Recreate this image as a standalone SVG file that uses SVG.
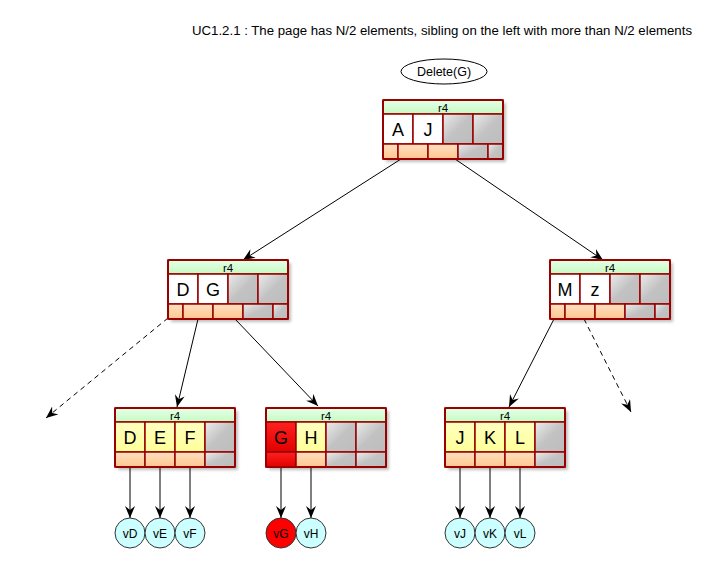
<svg xmlns="http://www.w3.org/2000/svg" width="714" height="564" viewBox="0 0 714 564">
<style>
text{font-family:"Liberation Sans","DejaVu Sans",Arial,sans-serif;fill:#000}
.title{font-size:12.5px}
.op{font-size:12.5px;text-anchor:middle}
.hdr{font-size:11.5px;text-anchor:middle}
.key{font-size:18px;text-anchor:middle}
.val{font-size:12px;text-anchor:middle}
.box{fill:none;stroke:#990000;stroke-width:2}
.shadow{fill:#000;opacity:0.25;filter:url(#blur)}
.c{stroke:#990000;stroke-width:1.5}
.g{fill:url(#gGreen)}
.w{fill:#ffffff}
.gr{fill:url(#gGray)}
.y{fill:url(#gYellow)}
.o{fill:url(#gOrange)}
.r{fill:url(#gRed)}
.link{stroke:#000;stroke-width:1;fill:none;marker-end:url(#arr)}
.dash{stroke-dasharray:5,4}
.leafc{fill:#ccffff;stroke:#333;stroke-width:1}
.leafr{fill:#ff0000;stroke:#333;stroke-width:1}
</style>
<defs>
<filter id="blur" x="-10%" y="-10%" width="130%" height="130%"><feGaussianBlur stdDeviation="1.5"/></filter>
<linearGradient id="gGreen" x1="0" y1="0" x2="0" y2="1"><stop offset="0" stop-color="#e6ffe6"/><stop offset="1" stop-color="#c4fbc4"/></linearGradient>
<linearGradient id="gGray" x1="0" y1="0" x2="1" y2="1"><stop offset="0" stop-color="#ececec"/><stop offset="0.5" stop-color="#c2c2c2"/><stop offset="1" stop-color="#bdbdbd"/></linearGradient>
<linearGradient id="gYellow" x1="0" y1="0" x2="0" y2="1"><stop offset="0" stop-color="#ffffc0"/><stop offset="1" stop-color="#ffff99"/></linearGradient>
<linearGradient id="gOrange" x1="0" y1="0" x2="0" y2="1"><stop offset="0" stop-color="#ffe0c0"/><stop offset="1" stop-color="#ffc690"/></linearGradient>
<linearGradient id="gRed" x1="0" y1="0" x2="0" y2="1"><stop offset="0" stop-color="#ff2020"/><stop offset="1" stop-color="#e00000"/></linearGradient>
<marker id="arr" viewBox="0 0 12 10" refX="12" refY="5" markerWidth="12" markerHeight="10" markerUnits="userSpaceOnUse" orient="auto"><path d="M0,0 L12,5 L0,10 L4,5 Z" fill="#000"/></marker>
</defs>
<rect width="714" height="564" fill="#ffffff"/>
<text class="title" x="692" y="35" text-anchor="end" textLength="500" lengthAdjust="spacingAndGlyphs">UC1.2.1 : The page has N/2 elements, sibling on the left with more than N/2 elements</text>
<g id="op">
<ellipse cx="444" cy="71.5" rx="43" ry="12.5" fill="#fff" stroke="#000" stroke-width="1"/>
<text class="op" x="444" y="76">Delete(G)</text>
</g>
<g id="connectors">
<line class="link" x1="401" y1="159" x2="243" y2="260"/>
<line class="link" x1="455" y1="159" x2="603" y2="260"/>
<line class="link dash" x1="168" y1="318" x2="46" y2="418"/>
<line class="link" x1="198" y1="319" x2="177" y2="407"/>
<line class="link" x1="235" y1="319" x2="318" y2="406"/>
<line class="link" x1="554" y1="319" x2="509" y2="407"/>
<line class="link dash" x1="584" y1="319" x2="631" y2="412"/>
<line class="link" x1="130" y1="467" x2="130" y2="518"/>
<line class="link" x1="160" y1="467" x2="160" y2="518"/>
<line class="link" x1="190" y1="467" x2="190" y2="518"/>
<line class="link" x1="281" y1="467" x2="281" y2="518"/>
<line class="link" x1="311" y1="467" x2="311" y2="518"/>
<line class="link" x1="460" y1="467" x2="460" y2="518"/>
<line class="link" x1="490" y1="467" x2="490" y2="518"/>
<line class="link" x1="520" y1="467" x2="520" y2="518"/>
</g>
<g id="root" transform="translate(383,100)">
<rect class="shadow" x="3" y="3" width="120" height="59"/>
<rect class="c g" x="0" y="0" width="120" height="14"/>
<rect class="c w" x="0" y="14" width="30" height="30"/>
<rect class="c w" x="30" y="14" width="30" height="30"/>
<rect class="c gr" x="60" y="14" width="30" height="30"/>
<rect class="c gr" x="90" y="14" width="30" height="30"/>
<rect class="c o" x="0" y="44" width="15" height="15"/>
<rect class="c o" x="15" y="44" width="30" height="15"/>
<rect class="c o" x="45" y="44" width="30" height="15"/>
<rect class="c gr" x="75" y="44" width="30" height="15"/>
<rect class="c gr" x="105" y="44" width="15" height="15"/>
<rect class="box" x="0" y="0" width="120" height="59" rx="1.5"/>
<text class="hdr" x="60" y="11.5">r4</text>
<text class="key" x="15" y="35.5">A</text>
<text class="key" x="45" y="35.5">J</text>
</g>
<g id="nodeDG" transform="translate(168,260)">
<rect class="shadow" x="3" y="3" width="120" height="59"/>
<rect class="c g" x="0" y="0" width="120" height="14"/>
<rect class="c w" x="0" y="14" width="30" height="30"/>
<rect class="c w" x="30" y="14" width="30" height="30"/>
<rect class="c gr" x="60" y="14" width="30" height="30"/>
<rect class="c gr" x="90" y="14" width="30" height="30"/>
<rect class="c o" x="0" y="44" width="15" height="15"/>
<rect class="c o" x="15" y="44" width="30" height="15"/>
<rect class="c o" x="45" y="44" width="30" height="15"/>
<rect class="c gr" x="75" y="44" width="30" height="15"/>
<rect class="c gr" x="105" y="44" width="15" height="15"/>
<rect class="box" x="0" y="0" width="120" height="59" rx="1.5"/>
<text class="hdr" x="60" y="11.5">r4</text>
<text class="key" x="15" y="35.5">D</text>
<text class="key" x="45" y="35.5">G</text>
</g>
<g id="nodeMz" transform="translate(550,260)">
<rect class="shadow" x="3" y="3" width="120" height="59"/>
<rect class="c g" x="0" y="0" width="120" height="14"/>
<rect class="c w" x="0" y="14" width="30" height="30"/>
<rect class="c w" x="30" y="14" width="30" height="30"/>
<rect class="c gr" x="60" y="14" width="30" height="30"/>
<rect class="c gr" x="90" y="14" width="30" height="30"/>
<rect class="c o" x="0" y="44" width="15" height="15"/>
<rect class="c o" x="15" y="44" width="30" height="15"/>
<rect class="c o" x="45" y="44" width="30" height="15"/>
<rect class="c gr" x="75" y="44" width="30" height="15"/>
<rect class="c gr" x="105" y="44" width="15" height="15"/>
<rect class="box" x="0" y="0" width="120" height="59" rx="1.5"/>
<text class="hdr" x="60" y="11.5">r4</text>
<text class="key" x="15" y="35.5">M</text>
<text class="key" x="45" y="35.5">z</text>
</g>
<g id="leafDEF" transform="translate(115,408)">
<rect class="shadow" x="3" y="3" width="120" height="59"/>
<rect class="c g" x="0" y="0" width="120" height="14"/>
<rect class="c y" x="0" y="14" width="30" height="30"/>
<rect class="c y" x="30" y="14" width="30" height="30"/>
<rect class="c y" x="60" y="14" width="30" height="30"/>
<rect class="c gr" x="90" y="14" width="30" height="30"/>
<rect class="c o" x="0" y="44" width="30" height="15"/>
<rect class="c o" x="30" y="44" width="30" height="15"/>
<rect class="c o" x="60" y="44" width="30" height="15"/>
<rect class="c gr" x="90" y="44" width="30" height="15"/>
<rect class="box" x="0" y="0" width="120" height="59" rx="1.5"/>
<text class="hdr" x="60" y="11.5">r4</text>
<text class="key" x="15" y="35.5">D</text>
<text class="key" x="45" y="35.5">E</text>
<text class="key" x="75" y="35.5">F</text>
</g>
<g id="leafGH" transform="translate(266,408)">
<rect class="shadow" x="3" y="3" width="120" height="59"/>
<rect class="c g" x="0" y="0" width="120" height="14"/>
<rect class="c r" x="0" y="14" width="30" height="30"/>
<rect class="c y" x="30" y="14" width="30" height="30"/>
<rect class="c gr" x="60" y="14" width="30" height="30"/>
<rect class="c gr" x="90" y="14" width="30" height="30"/>
<rect class="c r" x="0" y="44" width="30" height="15"/>
<rect class="c o" x="30" y="44" width="30" height="15"/>
<rect class="c gr" x="60" y="44" width="30" height="15"/>
<rect class="c gr" x="90" y="44" width="30" height="15"/>
<rect class="box" x="0" y="0" width="120" height="59" rx="1.5"/>
<text class="hdr" x="60" y="11.5">r4</text>
<text class="key" x="15" y="35.5">G</text>
<text class="key" x="45" y="35.5">H</text>
</g>
<g id="leafJKL" transform="translate(445,408)">
<rect class="shadow" x="3" y="3" width="120" height="59"/>
<rect class="c g" x="0" y="0" width="120" height="14"/>
<rect class="c y" x="0" y="14" width="30" height="30"/>
<rect class="c y" x="30" y="14" width="30" height="30"/>
<rect class="c y" x="60" y="14" width="30" height="30"/>
<rect class="c gr" x="90" y="14" width="30" height="30"/>
<rect class="c o" x="0" y="44" width="30" height="15"/>
<rect class="c o" x="30" y="44" width="30" height="15"/>
<rect class="c o" x="60" y="44" width="30" height="15"/>
<rect class="c gr" x="90" y="44" width="30" height="15"/>
<rect class="box" x="0" y="0" width="120" height="59" rx="1.5"/>
<text class="hdr" x="60" y="11.5">r4</text>
<text class="key" x="15" y="35.5">J</text>
<text class="key" x="45" y="35.5">K</text>
<text class="key" x="75" y="35.5">L</text>
</g>
<g id="vD"><circle class="leafc" cx="130" cy="533" r="15"/><text class="val" x="130" y="537.5">vD</text></g>
<g id="vE"><circle class="leafc" cx="160" cy="533" r="15"/><text class="val" x="160" y="537.5">vE</text></g>
<g id="vF"><circle class="leafc" cx="190" cy="533" r="15"/><text class="val" x="190" y="537.5">vF</text></g>
<g id="vG"><circle class="leafr" cx="281" cy="533" r="15"/><text class="val" x="281" y="537.5">vG</text></g>
<g id="vH"><circle class="leafc" cx="311" cy="533" r="15"/><text class="val" x="311" y="537.5">vH</text></g>
<g id="vJ"><circle class="leafc" cx="460" cy="533" r="15"/><text class="val" x="460" y="537.5">vJ</text></g>
<g id="vK"><circle class="leafc" cx="490" cy="533" r="15"/><text class="val" x="490" y="537.5">vK</text></g>
<g id="vL"><circle class="leafc" cx="520" cy="533" r="15"/><text class="val" x="520" y="537.5">vL</text></g>
</svg>
